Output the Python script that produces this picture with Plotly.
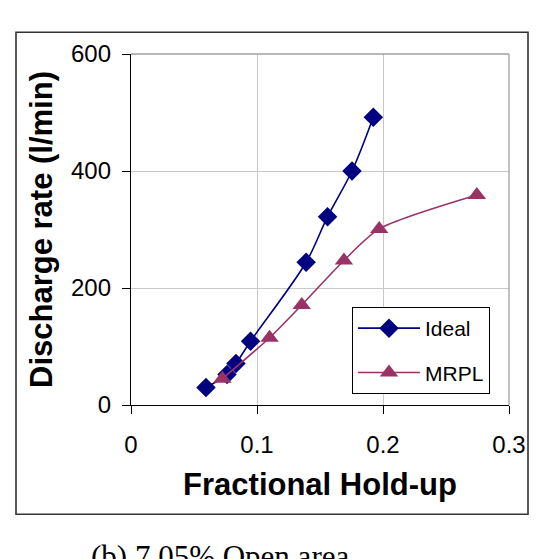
import plotly.graph_objects as go

ideal_x = [0.0595, 0.0762, 0.0833, 0.0949, 0.139, 0.156, 0.1754, 0.1923]
ideal_y = [30, 52, 71, 109, 244, 322, 400, 492]
mrpl_x = [0.0725, 0.110, 0.1355, 0.169, 0.197, 0.2745]
mrpl_y = [45, 115, 171, 247, 301, 359]

x_ticks = [0, 0.1, 0.2, 0.3]
x_ticktext = ["0", "0.1", "0.2", "0.3"]
y_ticks = [0, 200, 400, 600]

FONT = "Liberation Sans, Arial, sans-serif"

fig = go.Figure()
fig.add_trace(go.Scatter(
    x=ideal_x, y=ideal_y, name="Ideal", mode="lines+markers",
    line=dict(color="#000080", width=1.6, shape="spline", smoothing=0.9),
    marker=dict(symbol="diamond", size=15, color="#000080"),
    legendgroup="a"))
fig.add_trace(go.Scatter(
    x=mrpl_x, y=mrpl_y, name="MRPL", mode="lines+markers",
    line=dict(color="#993366", width=1.6, shape="spline", smoothing=0.7),
    marker=dict(symbol="triangle-up", size=16, color="#993366"),
    legendgroup="b"))

W, H = 553, 559
L, R, T, B = 131, 44, 54, 154
pw, ph = W - L - R, H - T - B

def px(xp):
    return (xp - L) / pw

def py(yp):
    return (H - B - yp) / ph

fig.update_layout(
    width=W, height=H,
    margin=dict(l=L, r=R, t=T, b=B, pad=0),
    paper_bgcolor="white", plot_bgcolor="white",
    font=dict(family=FONT, color="black", size=22),
    showlegend=True,
    legend=dict(
        x=px(352), y=py(307), xanchor="left", yanchor="top",
        bordercolor="black", borderwidth=1, bgcolor="white",
        font=dict(size=21, family=FONT, color="black"),
        tracegroupgap=14, itemwidth=62,
    ),
    xaxis=dict(
        range=[0, 0.3], tickvals=x_ticks, ticktext=x_ticktext,
        tickfont=dict(size=24, family=FONT, color="black"),
        showgrid=True, gridcolor="#c8c8c8", gridwidth=1,
        showline=True, linecolor="black", linewidth=1.3,
        ticks="outside", ticklen=8, tickcolor="black", tickwidth=1.3,
        zeroline=False, ticklabelstandoff=10,
        title=dict(text="<b>Fractional Hold-up</b>", font=dict(size=31, family=FONT), standoff=16),
    ),
    yaxis=dict(
        range=[0, 600], tickvals=y_ticks,
        tickfont=dict(size=24, family=FONT, color="black"),
        showgrid=True, gridcolor="#c8c8c8", gridwidth=1,
        showline=True, linecolor="black", linewidth=1.3,
        ticks="outside", ticklen=8, tickcolor="black", tickwidth=1.3,
        zeroline=False, ticklabelstandoff=6,
        title=dict(text="<b>Discharge rate (l/min)</b>", font=dict(size=31, family=FONT), standoff=9),
    ),
    shapes=[
        dict(type="line", xref="paper", yref="paper", x0=0, x1=1, y0=1, y1=1,
             line=dict(color="#a0a0a0", width=1.3)),
        dict(type="line", xref="paper", yref="paper", x0=1, x1=1, y0=0, y1=1,
             line=dict(color="#a0a0a0", width=1.3)),
        dict(type="rect", xref="paper", yref="paper",
             x0=px(16), x1=px(528), y0=py(32.3), y1=py(514.3),
             line=dict(color="#333333", width=1.6), fillcolor="rgba(0,0,0,0)"),
    ],
    annotations=[
        dict(text="(b) 7.05% Open area", xref="paper", yref="paper",
             x=px(89), y=py(556), xanchor="left", yanchor="middle",
             showarrow=False,
             font=dict(family="Liberation Serif, Times New Roman, serif", size=31, color="black")),
    ],
)

fig.write_html("out.html")
